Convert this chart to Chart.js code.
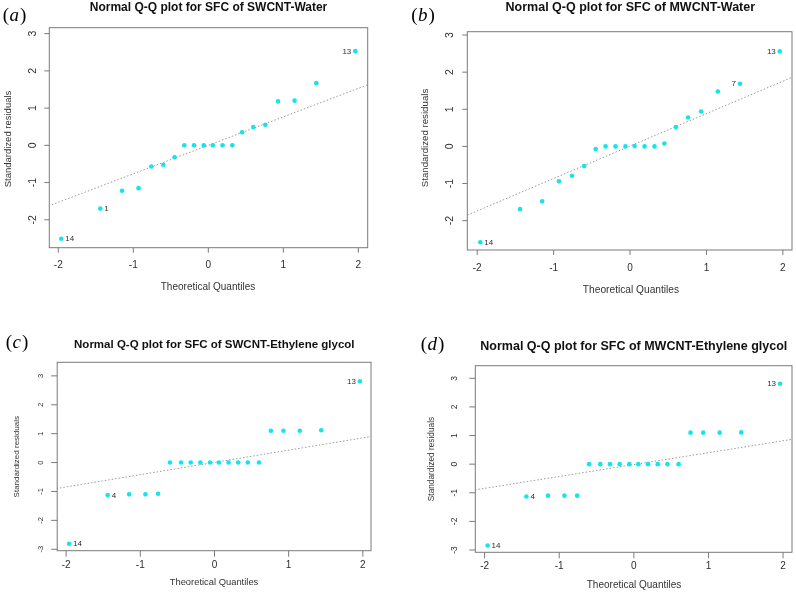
<!DOCTYPE html>
<html><head><meta charset="utf-8">
<script src="https://cdn.jsdelivr.net/npm/chart.js@4.4.1/dist/chart.umd.min.js"></script>
<style>
body{margin:0;background:#fff;width:796px;height:592px;position:relative;overflow:hidden}
canvas{position:absolute;left:0;top:0}
</style></head>
<body>
<canvas id="pa" width="796" height="592"></canvas>
<canvas id="pb" width="796" height="592"></canvas>
<canvas id="pc" width="796" height="592"></canvas>
<canvas id="pd" width="796" height="592"></canvas>
<script>
// ---------- DATA ----------
const theoreticalQuantiles = [-1.96,-1.44,-1.15,-0.93,-0.76,-0.60,-0.45,-0.32,-0.19,-0.06,0.06,0.19,0.32,0.45,0.60,0.76,0.93,1.15,1.44,1.96];
const residA = [-2.51,-1.70,-1.22,-1.15,-0.57,-0.52,-0.32,0,0,0,0,0,0,0.35,0.49,0.55,1.18,1.20,1.67,2.53];
const residB = [-2.58,-1.69,-1.48,-0.94,-0.79,-0.53,-0.07,0,0,0,0.01,0,0,0.08,0.52,0.78,0.94,1.48,1.69,2.56];
const residC = [-2.81,-1.12,-1.10,-1.10,-1.08,0,0,0,0,0,0,0,0,0,0,1.10,1.10,1.10,1.12,2.81];
const residD = [-2.84,-1.13,-1.10,-1.10,-1.10,0,0,0,0,0,0,0,0,0,0,1.10,1.10,1.10,1.11,2.81];
const pointLabelsA = ['14','1','','','','','','','','','','','','','','','','','','13'];
const pointLabelsB = ['14','','','','','','','','','','','','','','','','','','7','13'];
const pointLabelsC = ['14','4','','','','','','','','','','','','','','','','','','13'];
const pointLabelsD = ['14','4','','','','','','','','','','','','','','','','','','13'];
const refLineX = [-2.13, 2.13];
const refLineA = [-1.63, 1.63];
const refLineB = [-1.85, 1.87];
const refLineC = [-0.90, 0.91];
const refLineD = [-0.90, 0.87];
const xTicks = [-2,-1,0,1,2];
const yTicksAB = [-2,-1,0,1,2,3];
const yTicksCD = [-3,-2,-1,0,1,2,3];
const titles = ['Normal Q-Q plot for SFC of SWCNT-Water','Normal Q-Q plot for SFC of MWCNT-Water',
  'Normal Q-Q plot for SFC of SWCNT-Ethylene glycol','Normal Q-Q plot for SFC of MWCNT-Ethylene glycol'];
const panelTags = ['a','b','c','d'];
const xTitle = 'Theoretical Quantiles';
const yTitle = 'Standardized residuals';

// ---------- LAYOUT ----------
const panels = [
 {id:'pa', resid:residA, labels:pointLabelsA, line:refLineA, yTicks:yTicksAB, title:titles[0], tag:panelTags[0],
  box:{l:49.3,r:367.7,t:27.7,b:247.7}, x:[-2.12,2.125], y:[-2.75,3.16],
  titleP:[208.5,7.5,12], xTitleP:[208,287,10], yTitleP:[8.5,139,9.5], yTickX:33, yTickFont:10.5, xTickY:265, xTickFont:10, tagP:[14.5,16], tick:5},
 {id:'pb', resid:residB, labels:pointLabelsB, line:refLineB, yTicks:yTicksAB, title:titles[1], tag:panelTags[1],
  box:{l:467.3,r:793.3,t:31.7,b:250}, x:[-2.13,2.12], y:[-2.79,3.09],
  titleP:[630.3,7.5,12.5], xTitleP:[631,290,10.2], yTitleP:[425,138,9.7], yTickX:450, yTickFont:10.5, xTickY:268, xTickFont:10, tagP:[423,16], tick:5},
 {id:'pc', resid:residC, labels:pointLabelsC, line:refLineC, yTicks:yTicksCD, title:titles[2], tag:panelTags[2],
  box:{l:57.2,r:371,t:362.3,b:550.7}, x:[-2.12,2.11], y:[-3.05,3.47],
  titleP:[214.3,344.5,11.5], xTitleP:[214,582.7,9.4], yTitleP:[16.7,456.7,8], yTickX:41, yTickFont:7.5, xTickY:565, xTickFont:10, tagP:[17,343], tick:6},
 {id:'pd', resid:residD, labels:pointLabelsD, line:refLineD, yTicks:yTicksCD, title:titles[3], tag:panelTags[3],
  box:{l:475.3,r:792.3,t:365.7,b:552.3}, x:[-2.125,2.12], y:[-3.08,3.44],
  titleP:[633.8,347,12.5], xTitleP:[634,585.7,10], yTitleP:[431.3,459,8.3], yTickX:455, yTickFont:8.5, xTickY:566.7, xTickFont:10, tagP:[432.5,345], tick:6}
];

const SANS = '"Liberation Sans", Arial, sans-serif';
const decor = {
  id:'rDecor',
  afterDatasetsDraw(chart, args, o){
    const p = o.p; const ctx = chart.ctx;
    const xs = chart.scales.x, ys = chart.scales.y;
    const ca = chart.chartArea;
    ctx.save();
    // box
    ctx.strokeStyle = '#7a7a7a'; ctx.lineWidth = 1;
    ctx.strokeRect(ca.left, ca.top, ca.right-ca.left, ca.bottom-ca.top);
    // x ticks
    ctx.fillStyle = '#2e2e2e'; ctx.textAlign='center'; ctx.textBaseline='middle';
    ctx.font = p.xTickFont+'px '+SANS;
    xTicks.forEach(v=>{
      const px = xs.getPixelForValue(v);
      ctx.beginPath(); ctx.moveTo(px, ca.bottom); ctx.lineTo(px, ca.bottom+p.tick); ctx.stroke();
      ctx.fillText(String(v), px, p.xTickY);
    });
    // y ticks (rotated labels)
    ctx.font = p.yTickFont+'px '+SANS;
    p.yTicks.forEach(v=>{
      const py = ys.getPixelForValue(v);
      ctx.beginPath(); ctx.moveTo(ca.left, py); ctx.lineTo(ca.left-p.tick, py); ctx.stroke();
      ctx.save(); ctx.translate(p.yTickX, py); ctx.rotate(-Math.PI/2);
      ctx.fillText(String(v), 0, 0); ctx.restore();
    });
    // point labels
    ctx.font = '8px '+SANS; ctx.fillStyle='#2e2e2e'; ctx.textBaseline='middle';
    p.labels.forEach((lab,i)=>{
      if(!lab) return;
      const px = xs.getPixelForValue(theoreticalQuantiles[i]);
      const py = ys.getPixelForValue(p.resid[i]);
      if (theoreticalQuantiles[i] > 0){ ctx.textAlign='right'; ctx.fillText(lab, px-4, py+0.5); }
      else { ctx.textAlign='left'; ctx.fillText(lab, px+4, py+0.5); }
    });
    // titles
    ctx.fillStyle='#111'; ctx.textAlign='center';
    ctx.font = 'bold '+p.titleP[2]+'px '+SANS;
    ctx.fillText(p.title, p.titleP[0], p.titleP[1]);
    ctx.fillStyle='#333';
    ctx.font = p.xTitleP[2]+'px '+SANS;
    ctx.fillText(xTitle, p.xTitleP[0], p.xTitleP[1]);
    ctx.save(); ctx.translate(p.yTitleP[0], p.yTitleP[1]); ctx.rotate(-Math.PI/2);
    ctx.font = p.yTitleP[2]+'px '+SANS; ctx.fillText(yTitle, 0, 0); ctx.restore();
    // panel tag
    ctx.fillStyle='#000';
    const t1 = '(', t3 = ')';
    ctx.font = '19px "Liberation Serif", serif';
    const w1 = ctx.measureText(t1).width, w3 = ctx.measureText(t3).width;
    ctx.font = 'italic 19px "Liberation Serif", serif';
    const w2 = ctx.measureText(p.tag).width + 1.5;
    let x0 = p.tagP[0] - (w1+w2+w3)/2;
    ctx.textAlign='left';
    ctx.font = '19px "Liberation Serif", serif';
    ctx.fillText(t1, x0, p.tagP[1]);
    ctx.font = 'italic 19px "Liberation Serif", serif';
    ctx.fillText(p.tag, x0+w1+0.5, p.tagP[1]);
    ctx.font = '19px "Liberation Serif", serif';
    ctx.fillText(t3, x0+w1+w2, p.tagP[1]);
    ctx.restore();
  }
};

panels.forEach(p=>{
  const pts = theoreticalQuantiles.map((q,i)=>({x:q, y:p.resid[i]}));
  const ln = refLineX.map((q,i)=>({x:q, y:p.line[i]}));
  new Chart(document.getElementById(p.id), {
    type:'scatter',
    data:{datasets:[
      {type:'line', data:ln, borderColor:'#9a9a9a', borderWidth:1, borderDash:[1.5,2], pointRadius:0, fill:false, order:2},
      {data:pts, backgroundColor:'#14e4ef', borderColor:'#14e4ef', pointRadius:2.3, pointBorderWidth:0, order:1}
    ]},
    options:{
      responsive:false, animation:false, devicePixelRatio:1,
      layout:{padding:{left:p.box.l, right:796-p.box.r, top:p.box.t, bottom:592-p.box.b}},
      scales:{
        x:{type:'linear', min:p.x[0], max:p.x[1], display:false},
        y:{type:'linear', min:p.y[0], max:p.y[1], display:false}
      },
      plugins:{legend:{display:false}, tooltip:{enabled:false}, rDecor:{p:p}}
    },
    plugins:[decor]
  });
});
</script>
</body></html>
